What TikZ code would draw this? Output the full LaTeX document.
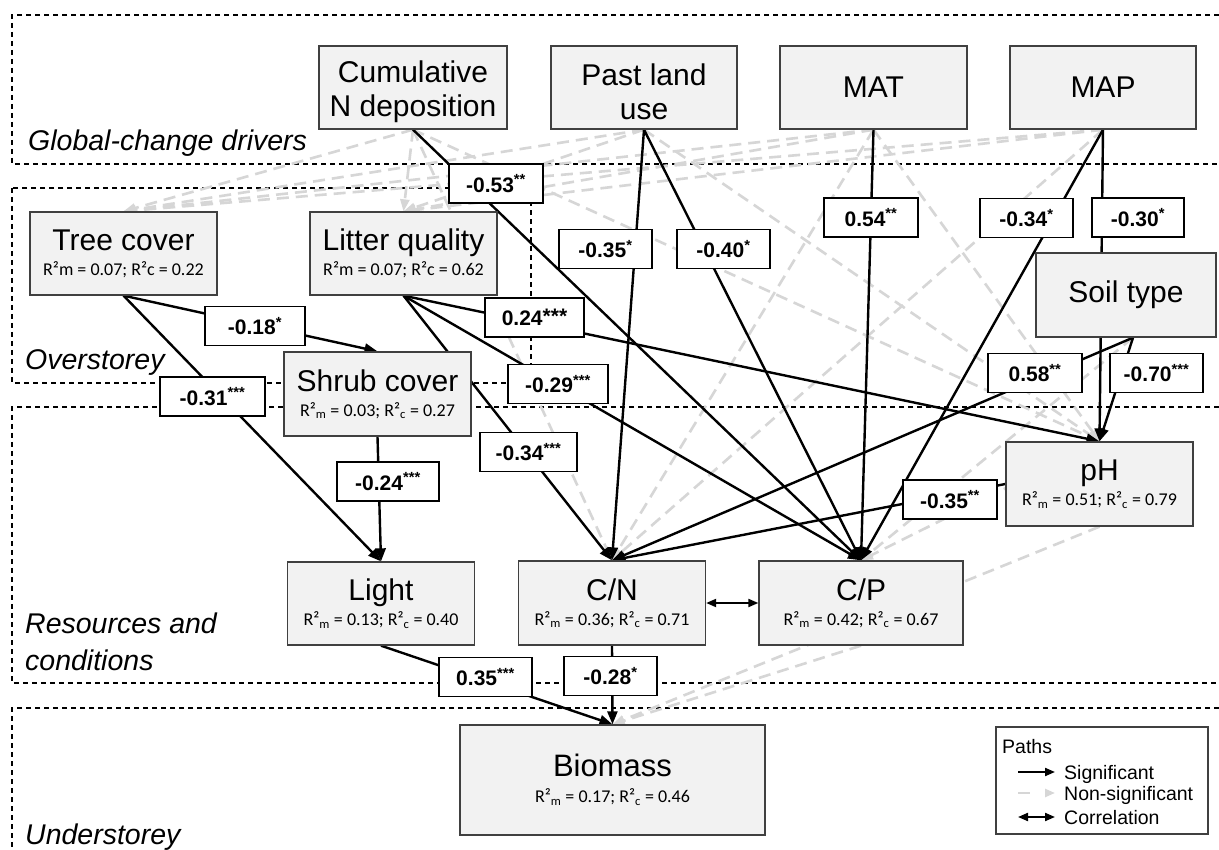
\documentclass[tikz,border=0pt]{standalone}
\usepackage{fontspec}
\setmainfont{Liberation Sans}
\newfontfamily\calib{Carlito}
\usetikzlibrary{arrows.meta,backgrounds}
\definecolor{boxfill}{HTML}{F2F2F2}
\definecolor{boxline}{HTML}{404040}
\definecolor{nsgray}{HTML}{D6D6D6}
\newcommand{\rsqa}[2]{{\calib\fontsize{18}{18}\selectfont R²m = #1; R²c = #2}}
\newcommand{\rsqb}[2]{{\calib\fontsize{18}{18}\selectfont R²\textsubscript{m} = #1; R²\textsubscript{c} = #2}}
\newcommand{\stars}[1]{\textsuperscript{#1}}
\newcommand{\tstrut}{\rule{0pt}{30pt}}
\tikzset{
  var/.style={draw=boxline, line width=1.3pt, fill=boxfill, minimum width=187pt, minimum height=83pt, inner sep=0pt, align=center, font=\fontsize{30}{25}\selectfont},
  vartwo/.style={var, font=\fontsize{30}{34}\selectfont},
  coef/.style={draw=black, line width=1.3pt, fill=white, minimum width=94pt, minimum height=39pt, inner sep=0pt, font=\bfseries\fontsize{21}{21}\selectfont},
  sig/.style={draw=black, line width=2.4pt, -{Triangle[length=13pt,width=10pt]}},
  ns/.style={draw=nsgray, line width=2.6pt, dash pattern=on 12pt off 7pt, -{Triangle[length=12pt,width=9pt]}},
  corr/.style={draw=black, line width=2pt, {Triangle[length=10pt,width=8pt]}-{Triangle[length=10pt,width=8pt]}},
  group/.style={draw=black, line width=1.2pt, dash pattern=on 5pt off 4pt},
  glabel/.style={font=\itshape\fontsize{28.5}{30}\selectfont, anchor=base west, inner sep=0pt},
  lgtext/.style={font=\fontsize{19.5}{20}\selectfont, anchor=base west, inner sep=0pt},
}
\begin{document}
\begin{tikzpicture}[x=1pt,y=-1pt]
\useasboundingbox (0,0) rectangle (1219,850);

% variables
\node[vartwo, minimum width=188pt] (cum) at (413,87.5) {\tstrut Cumulative\\N deposition};
\node[vartwo, minimum width=186pt] (past) at (644,87.5) {\tstrut Past land\\use};
\node[var] (mat) at (873.5,87.5) {MAT};
\node[var, minimum width=186pt] (map) at (1103,87.5) {MAP};
\node[var] (tree) at (123.5,253.5) {Tree cover\\\rsqa{0.07}{0.22}};
\node[var] (litter) at (403.5,253.5) {Litter quality\\\rsqa{0.07}{0.62}};
\node[var, minimum height=84pt] (shrub) at (377.5,394) {Shrub cover\\\rsqb{0.03}{0.27}};
\node[var, minimum width=180pt, minimum height=84pt] (soil) at (1126,295) {Soil type};
\node[var, minimum height=84pt] (ph) at (1099.5,484) {pH\\\rsqb{0.51}{0.79}};
\node[var] (light) at (381,603.5) {Light\\\rsqb{0.13}{0.40}};
\node[var, minimum height=84pt] (cn) at (612,603) {C/N\\\rsqb{0.36}{0.71}};
\node[var, minimum width=204pt, minimum height=84pt] (cp) at (861,603) {C/P\\\rsqb{0.42}{0.67}};
\node[var, minimum width=305pt, minimum height=110pt, font=\fontsize{31}{26}\selectfont] (bio) at (612.5,780) {Biomass\\\rsqb{0.17}{0.46}};
\coordinate (soilout) at ([xshift=7pt]soil.south);

% group labels
\node[glabel] (gl1) at (28,151) {Global-change drivers};
\node[glabel] (gl2) at (25,370) {Overstorey};
\node[glabel] (gl3) at (25,633) {Resources and};
\node[glabel] (gl4) at (25,670) {conditions};
\node[glabel] (gl5) at (25,844) {Understorey};

% coefficients
\node[coef] (l53) at (496,183.5) {-0.53\stars{**}};
\node[coef, minimum width=93pt] (l35a) at (605.5,249) {-0.35\stars{*}};
\node[coef, minimum width=93pt] (l40) at (723.5,249) {-0.40\stars{*}};
\node[coef] (l54) at (871,217.5) {0.54\stars{**}};
\node[coef, minimum width=93pt] (l34a) at (1026.5,218) {-0.34\stars{*}};
\node[coef, minimum width=92pt] (l30) at (1138,217.5) {-0.30\stars{*}};
\node[coef] (l58) at (1035,373) {0.58\stars{**}};
\node[coef, minimum width=93pt] (l70) at (1156.5,373) {-0.70\stars{***}};
\node[coef, minimum width=100pt] (l18) at (255,326) {-0.18\stars{*}};
\node[coef, minimum width=99pt] (l24a) at (534.5,317.5) {0.24\raisebox{2pt}{***}};
\node[coef, minimum width=100pt] (l29) at (558,384) {-0.29\stars{***}};
\node[coef, minimum width=105pt] (l31) at (212.5,396.5) {-0.31\stars{***}};
\node[coef, minimum width=102pt] (l24b) at (388,481.5) {-0.24\stars{***}};
\node[coef, minimum width=97pt] (l34b) at (528.5,452) {-0.34\stars{***}};
\node[coef] (l35b) at (950,499.5) {-0.35\stars{**}};
\node[coef, minimum width=93pt] (l35c) at (485.5,677) {0.35\stars{***}};
\node[coef, minimum width=93pt] (l28) at (610.5,676) {-0.28\stars{*}};

% legend
\node[draw=boxline, line width=1.1pt, fill=white, minimum width=212pt, minimum height=107pt, inner sep=0pt] (legend) at (1102,780.5) {};
\node[lgtext] (lgt) at (1002,753) {Paths};
\coordinate (lsa) at (1018,772); \coordinate (lsb) at (1055,772);
\coordinate (lna) at (1018,793); \coordinate (lnb) at (1055,793);
\coordinate (lca) at (1018,817); \coordinate (lcb) at (1055,817);
\node[lgtext] (lgs) at (1064,779) {Significant};
\node[lgtext] (lgn) at (1064,800) {Non-significant};
\node[lgtext] (lgc) at (1064,824) {Correlation};
\draw[sig, line width=2pt, -{Triangle[length=10pt,width=8pt]}] (lsa) -- (lsb);
\draw[ns, line width=2.4pt, dash pattern=on 12pt off 20pt, -{Triangle[length=10pt,width=8pt]}] (lna) -- (lnb);
\draw[corr] (lca) -- (lcb);

\begin{pgfonlayer}{background}
\fill[white] (0,0) rectangle (1219,850);
% groups
\draw[group] (1219,15) -- (12,15) -- (12,164) -- (1219,164);
\draw[group] (12,188) rectangle (531,383);
\draw[group] (1219,407) -- (12,407) -- (12,683) -- (1219,683);
\draw[group] (1219,708) -- (12,708) -- (12,850);

% non-significant paths
\draw[ns] (cum.south) -- (tree.north);
\draw[ns] (cum.south) -- (litter.north);
\draw[ns] (past.south) -- (tree.north);
\draw[ns] (past.south) -- (litter.north);
\draw[ns] (mat.south) -- (tree.north);
\draw[ns] (mat.south) -- (litter.north);
\draw[ns] (map.south) -- (tree.north);
\draw[ns] (map.south) -- (litter.north);
\draw[ns] (cum.south) -- (ph.north);
\draw[ns] (cum.south) -- (cn.north);
\draw[ns] (past.south) -- (ph.north);
\draw[ns] (mat.south) -- (cn.north);
\draw[ns] (mat.south) -- (ph.north);
\draw[ns] (map.south) -- (cn.north);
\draw[ns] (soilout) -- (cp.north);
\draw[ns] (ph.north) -- (cp.north);
\draw[ns] (cp.south) -- (bio.north);
\draw[ns] (ph.south) -- (bio.north);

% significant paths
\draw[sig] (cum.south) -- (cp.north);
\draw[sig] (past.south) -- (cn.north);
\draw[sig] (past.south) -- (cp.north);
\draw[sig] (mat.south) -- (cp.north);
\draw[sig] (map.south) -- (cp.north);
\draw[sig] (map.south) -- (ph.north);
\draw[sig] (soilout) -- (ph.north);
\draw[sig] (soilout) -- (cn.north);
\draw[sig] (litter.south) -- (ph.north);
\draw[sig] (litter.south) -- (cp.north);
\draw[sig] (litter.south) -- (cn.north);
\draw[sig] (tree.south) -- (shrub.north);
\draw[sig] (tree.south) -- (light.north);
\draw[sig] (shrub.south) -- (light.north);
\draw[sig] (ph.west) -- (cn.north);
\draw[sig] (light.south) -- (bio.north);
\draw[sig] (cn.south) -- (bio.north);
\draw[corr] (cn.east) -- (cp.west);
\end{pgfonlayer}
\end{tikzpicture}
\end{document}
